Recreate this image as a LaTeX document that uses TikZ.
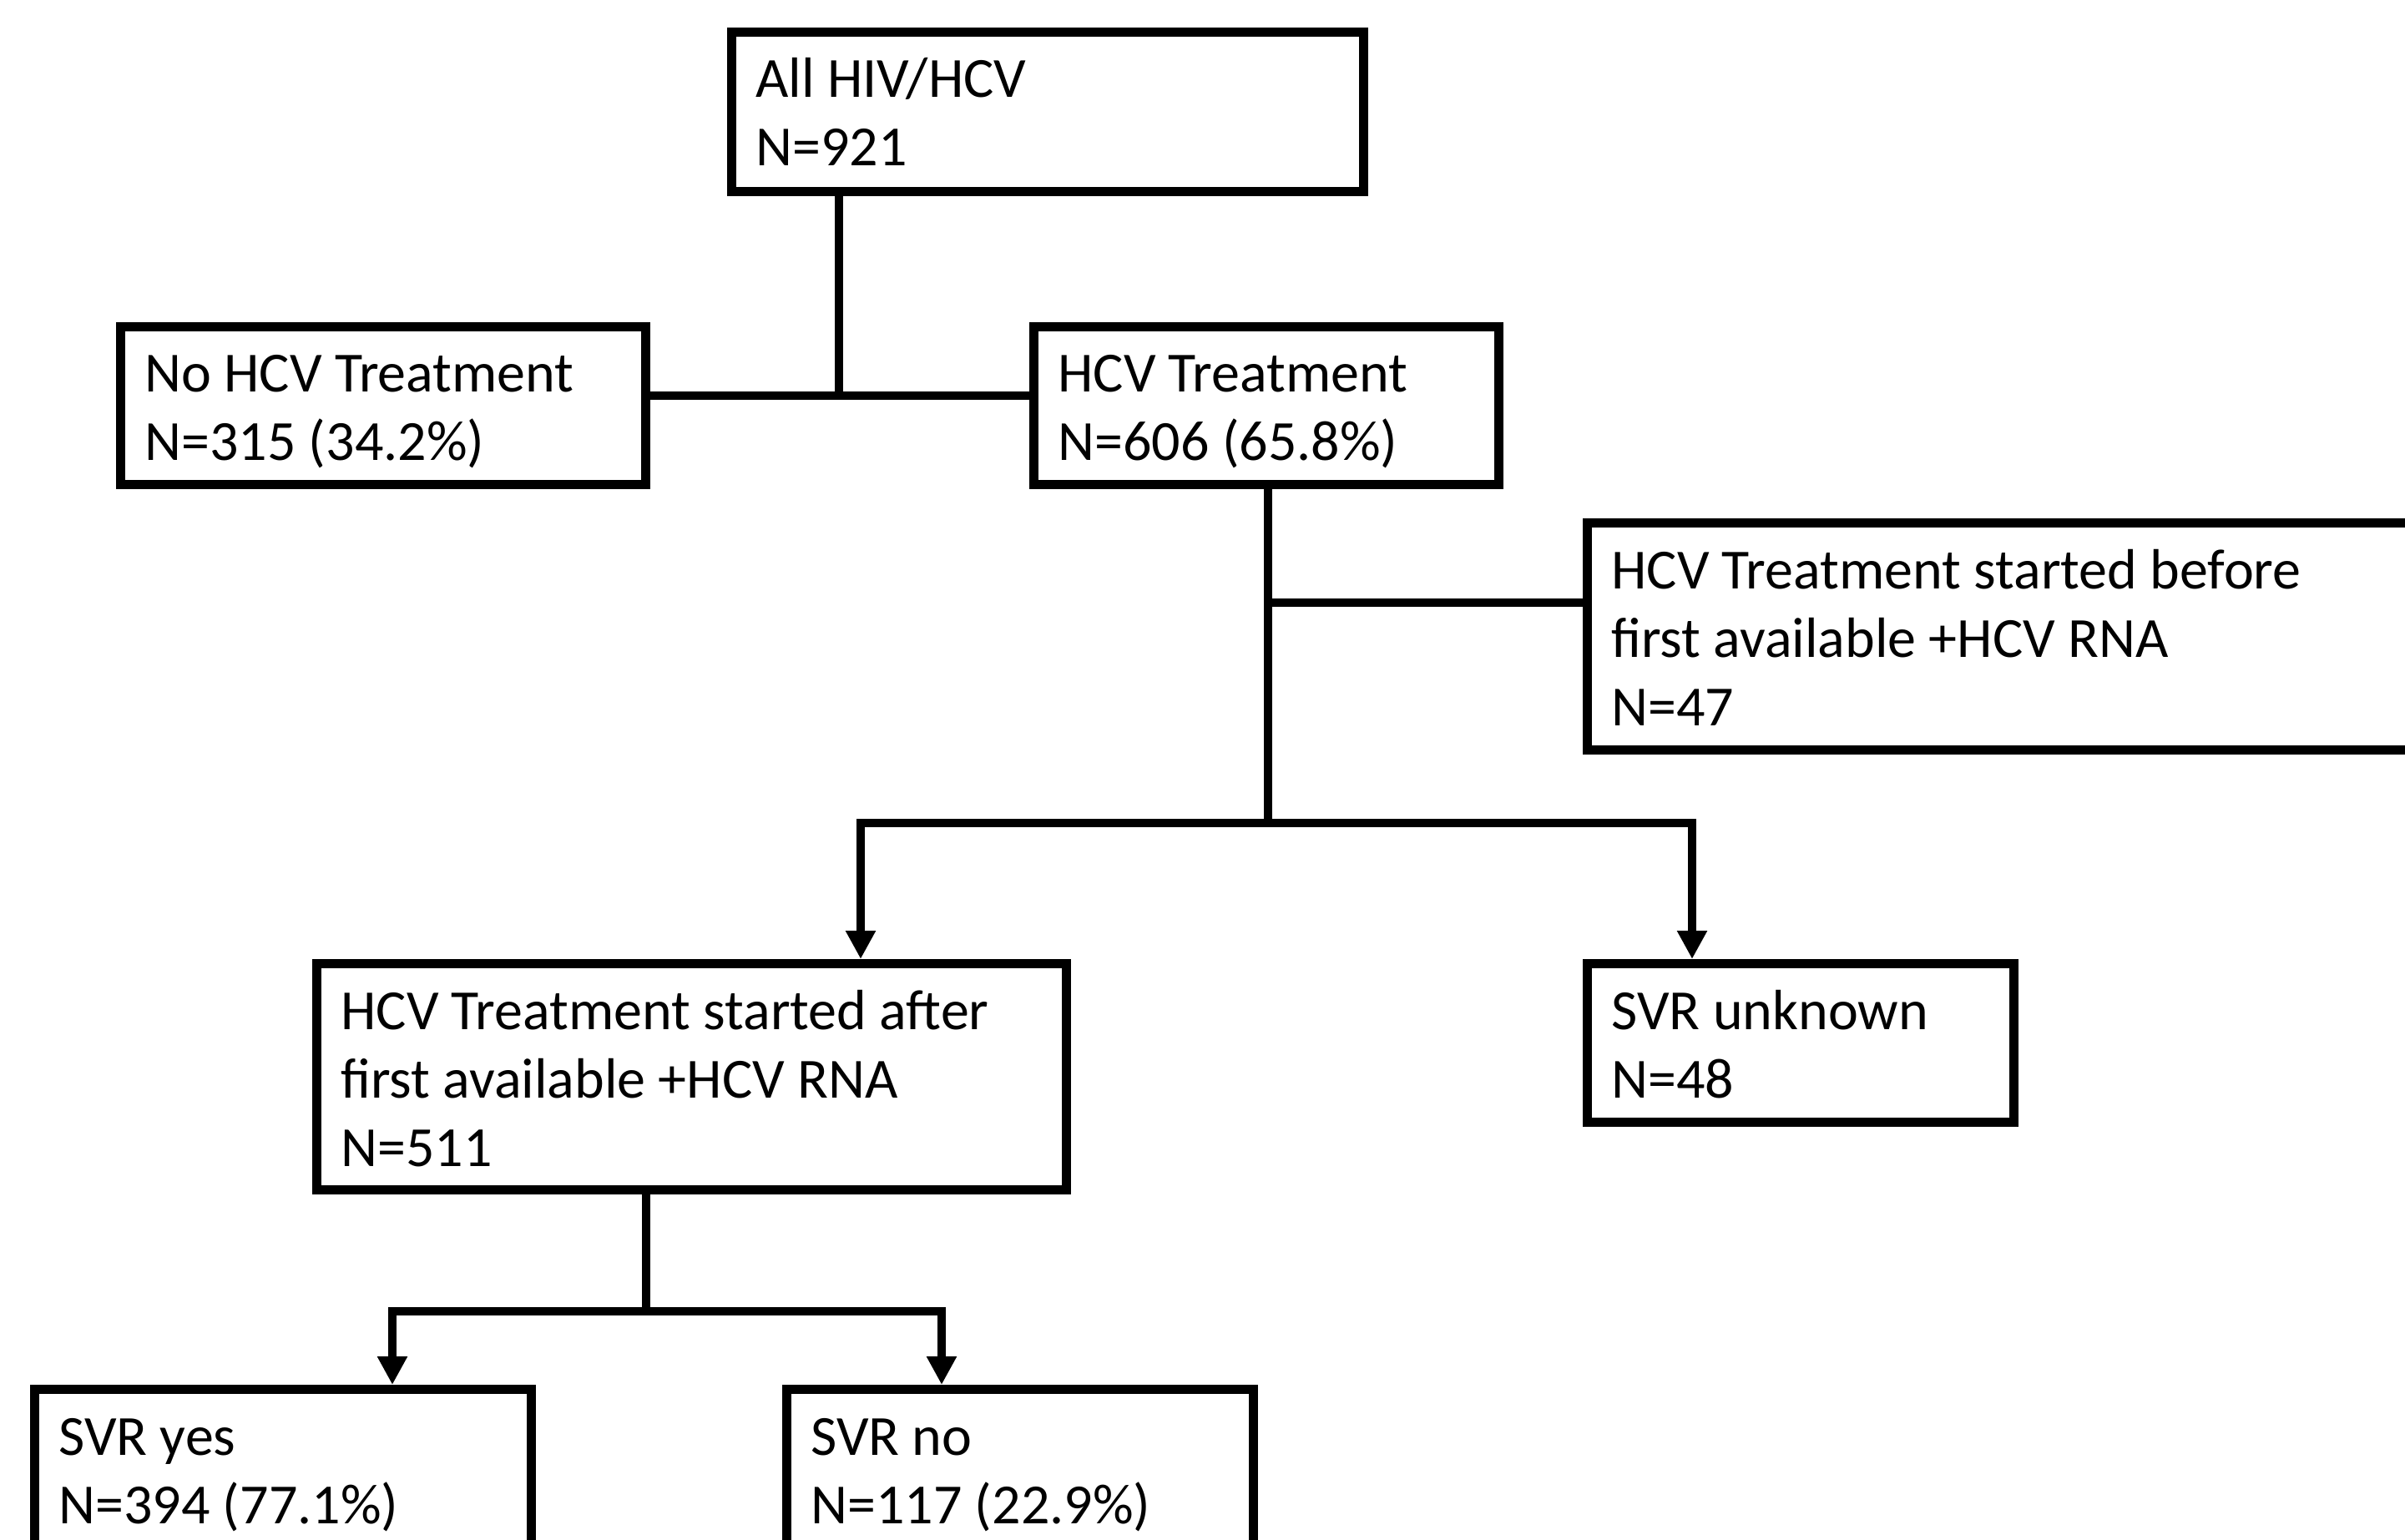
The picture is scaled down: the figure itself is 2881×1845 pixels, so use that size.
\documentclass[tikz,border=0pt]{standalone}
\usepackage{fontspec}
\setmainfont{Carlito}
\usetikzlibrary{arrows.meta,calc}
\newcommand\flowtext[1]{\fontsize{34}{41}\selectfont\begin{tabular}[t]{@{}l@{}}#1\end{tabular}}
\begin{document}
\begin{tikzpicture}[x=0.5pt,y=-0.5pt,
  box/.style={draw,line width=5.5pt,inner sep=0pt,anchor=north west,fill=white},
  txt/.style={inner sep=0pt,anchor=base west},
  conn/.style={line width=5pt},
  arr/.style={conn,-{Triangle[width=17pt,length=17pt]}}]
\clip (0,0) rectangle (2881,1845);
\fill[white] (0,0) rectangle (2881,1845);
% boxes
\node[box,minimum width=378.5pt,minimum height=95.5pt] (all) at (871,33) {};
\node[box,minimum width=314.5pt,minimum height=94.5pt] (notx) at (139,386) {};
\node[box,minimum width=278.5pt,minimum height=94.5pt] (tx) at (1233,386) {};
\node[box,minimum width=525pt,minimum height=136pt] (before) at (1896,621) {};
\node[box,minimum width=449pt,minimum height=135.5pt] (after) at (374,1149) {};
\node[box,minimum width=255.5pt,minimum height=95pt] (unk) at (1896,1149) {};
\node[box,minimum width=297.5pt,minimum height=120pt] (yes) at (36,1659) {};
\node[box,minimum width=279.5pt,minimum height=120pt] (no) at (937,1659) {};
% texts
\node[txt] (tall) at ($(all.north west)+(34,84)$) {\flowtext{All HIV/HCV\\N=921}};
\node[txt] (tnotx) at ($(notx.north west)+(34,84)$) {\flowtext{No HCV Treatment\\N=315 (34.2\%)}};
\node[txt] (ttx) at ($(tx.north west)+(34,84)$) {\flowtext{HCV Treatment\\N=606 (65.8\%)}};
\node[txt] (tbefore) at ($(before.north west)+(34,84)$) {\flowtext{HCV Treatment started before\\first available +HCV RNA\\N=47}};
\node[txt] (tafter) at ($(after.north west)+(34,84)$) {\flowtext{HCV Treatment started after\\first available +HCV RNA\\N=511}};
\node[txt] (tunk) at ($(unk.north west)+(34,84)$) {\flowtext{SVR unknown\\N=48}};
\node[txt] (tyes) at ($(yes.north west)+(34,84)$) {\flowtext{SVR yes\\N=394 (77.1\%)}};
\node[txt] (tno) at ($(no.north west)+(34,84)$) {\flowtext{SVR no\\N=117 (22.9\%)}};
% junctions
\coordinate (j1) at (1005,474);
\coordinate (j2) at (1519,722);
\coordinate (j3) at (1519,986);
\coordinate (j3l) at (1031,986);
\coordinate (j3r) at (2027,986);
\coordinate (j4) at (774,1571);
\coordinate (j4l) at (470,1571);
\coordinate (j4r) at (1128,1571);
% connectors
\draw[conn] (all.south -| j1) -- (j1);
\draw[conn] (j1 -| notx.east) -- (j1 -| tx.west);
\draw[conn] (tx.south -| j2) -- (j3);
\draw[conn] (j2) -- (j2 -| before.west);
\draw[conn,line cap=rect] (j3l) -- (j3r);
\draw[arr] (j3l) -- (j3l |- after.north);
\draw[arr] (j3r) -- (j3r |- unk.north);
\draw[conn] (after.south -| j4) -- (j4);
\draw[conn,line cap=rect] (j4l) -- (j4r);
\draw[arr] (j4l) -- (j4l |- yes.north);
\draw[arr] (j4r) -- (j4r |- no.north);
\end{tikzpicture}
\end{document}
